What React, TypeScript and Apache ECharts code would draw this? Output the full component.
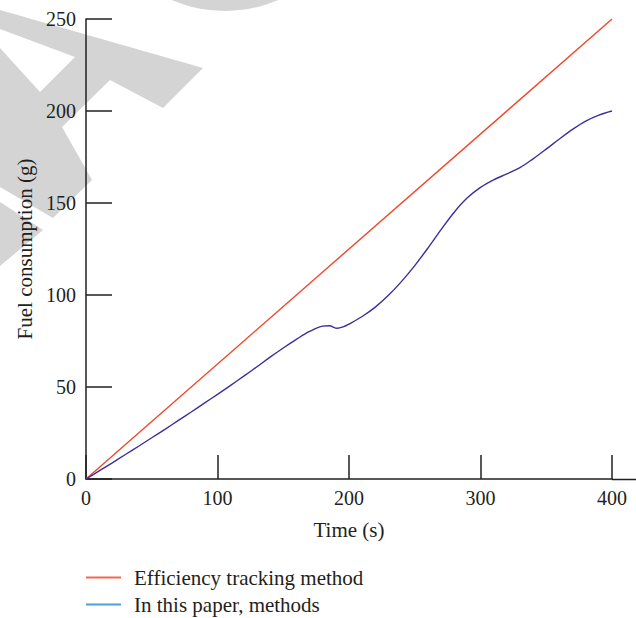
import React, { useEffect, useRef } from "react";
import * as echarts from "echarts";

// Data
const xTickValues = [0, 100, 200, 300, 400];
const yTickValues = [0, 50, 100, 150, 200, 250];

const seriesNames = ["Efficiency tracking method", "In this paper, methods"];

const redTime = [0, 400];
const redFuel = [0, 250];

const blueTime = [
  0, 10, 20, 30, 40, 50, 60, 70, 80, 90, 100, 110, 120, 130, 140, 150, 160, 170,
  180, 185, 191, 196, 200, 210, 220, 230, 240, 250, 260, 270, 280, 290, 300, 310,
  320, 330, 340, 350, 360, 370, 380, 390, 400,
];
const blueFuel = [
  0, 4.4, 8.8, 13.3, 17.8, 22.4, 27, 31.7, 36.4, 41.2, 46, 50.9, 55.9, 61, 66.2,
  71.2, 75.9, 80.2, 83.1, 83.3, 81.9, 82.8, 84.2, 88.3, 93.4, 99.8, 107.4, 116,
  125.5, 135.5, 145, 152.8, 158.5, 162.6, 165.8, 169.2, 174, 179.3, 184.8, 190,
  194.5, 197.8, 200,
];

const FONT = "'Liberation Serif', 'Times New Roman', serif";
const INK = "#231f20";
const WM = "#d4d4d4";

export default function App() {
  const ref = useRef<HTMLDivElement>(null);

  useEffect(() => {
    if (!ref.current) return;
    const chart = echarts.init(ref.current, undefined, { renderer: "svg" });

    const redData = redTime.map((t, i) => [t, redFuel[i]]);
    const blueData = blueTime.map((t, i) => [t, blueFuel[i]]);

    const legendBase = {
      orient: "vertical",
      left: 86,
      padding: 0,
      icon: "rect",
      itemWidth: 35,
      itemHeight: 2,
      textStyle: { fontFamily: FONT, fontSize: 21, color: INK, padding: [0, 0, 0, 8] },
    };

    const option: any = {
      animation: false,
      backgroundColor: "#ffffff",
      textStyle: { fontFamily: FONT, color: INK },
      grid: { left: 86, right: 24, top: 19, bottom: 139, containLabel: false },
      xAxis: {
        type: "value",
        min: xTickValues[0],
        max: xTickValues[xTickValues.length - 1],
        interval: 100,
        name: "Time (s)",
        nameLocation: "middle",
        nameGap: 40,
        nameTextStyle: { fontFamily: FONT, fontSize: 21, color: INK },
        axisLine: { show: true, onZero: false, lineStyle: { color: INK, width: 1.5 } },
        axisTick: { show: true, inside: true, length: 24, lineStyle: { color: INK, width: 1.5 } },
        axisLabel: { margin: 9, fontFamily: FONT, fontSize: 20, color: INK },
        splitLine: { show: false },
      },
      yAxis: {
        type: "value",
        min: yTickValues[0],
        max: yTickValues[yTickValues.length - 1],
        interval: 50,
        name: "Fuel consumption (g)",
        nameLocation: "middle",
        nameGap: 50,
        nameRotate: 90,
        nameTextStyle: { fontFamily: FONT, fontSize: 21, color: INK },
        axisLine: { show: true, onZero: false, lineStyle: { color: INK, width: 1.5 } },
        axisTick: { show: true, inside: true, length: 26, lineStyle: { color: INK, width: 1.5 } },
        axisLabel: { margin: 10, fontFamily: FONT, fontSize: 20, color: INK },
        splitLine: { show: false },
      },
      legend: [
        {
          ...legendBase,
          top: 567,
          data: [{ name: seriesNames[0], itemStyle: { color: "#f26652" } }],
        },
        {
          ...legendBase,
          top: 594,
          data: [{ name: seriesNames[1], itemStyle: { color: "#4f9ed8" } }],
        },
      ],
      graphic: [
        {
          type: "polygon",
          silent: true,
          z: -10,
          shape: {
            points: [
              [0, 10], [203, 68], [163, 108], [110, 80], [62, 127], [92, 180],
              [53, 218], [0, 187],
            ],
          },
          style: { fill: WM },
        },
        {
          type: "polygon",
          silent: true,
          z: -9,
          shape: { points: [[0, 29], [75, 57], [40, 92], [0, 48]] },
          style: { fill: "#ffffff" },
        },
        {
          type: "polygon",
          silent: true,
          z: -10,
          shape: { points: [[0, 202], [43, 230], [0, 266]] },
          style: { fill: WM },
        },
        {
          type: "circle",
          silent: true,
          z: -10,
          shape: { cx: 225, cy: -123, r: 134 },
          style: { fill: WM },
        },
        {
          type: "line",
          silent: true,
          z: 5,
          shape: { x1: 612, y1: 479.5, x2: 636, y2: 479.5 },
          style: { stroke: INK, lineWidth: 1.5 },
        },
      ],
      series: [
        {
          name: seriesNames[0],
          type: "line",
          data: redData,
          showSymbol: false,
          symbol: "none",
          lineStyle: { color: "#f0472b", width: 1.4 },
          itemStyle: { color: "#f0472b" },
          z: 3,
        },
        {
          name: seriesNames[1],
          type: "line",
          data: blueData,
          showSymbol: false,
          symbol: "none",
          smooth: 0.35,
          lineStyle: { color: "#3b2f9c", width: 1.4 },
          itemStyle: { color: "#3b2f9c" },
          z: 3,
        },
      ],
    };

    chart.setOption(option);
    return () => {
      chart.dispose();
    };
  }, []);

  return (
    <div
      ref={ref}
      style={{ position: "fixed", left: 0, top: 0, width: 636, height: 618, background: "#fff" }}
    />
  );
}
